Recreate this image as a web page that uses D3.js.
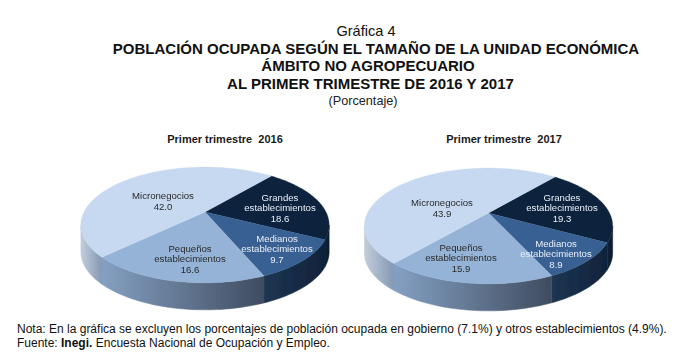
<!DOCTYPE html>
<html>
<head>
<meta charset="utf-8">
<script src="https://cdn.jsdelivr.net/npm/d3@7"></script>
<style>
	html, body { margin: 0; padding: 0; background: #fff; }
	text { font-family: "Liberation Sans", Arial, sans-serif; }
</style>
</head>
<body>
<svg id="chart" width="682" height="359"></svg>
<script>
'use strict';

// data
var categories = ['Grandes establecimientos', 'Medianos establecimientos', 'Pequeños establecimientos', 'Micronegocios'];
var values2016 = [18.6, 9.7, 16.6, 42.0];
var values2017 = [19.3, 8.9, 15.9, 43.9];
var chartTitles = ['Primer trimestre  2016', 'Primer trimestre  2017'];
var titleLines = [
	'POBLACIÓN OCUPADA SEGÚN EL TAMAÑO DE LA UNIDAD ECONÓMICA',
	'ÁMBITO NO AGROPECUARIO',
	'AL PRIMER TRIMESTRE DE 2016 Y 2017'
];

// slice styles, same order as categories
var topColors = ['#0f243e', '#376092', '#95b3d7', '#c6d9f1'];
var wallColors = [
	['#12233a', '#0b1a2e'],
	['#1d3552', '#10233b'],
	['#84a0c2', '#3f4c60'],
	['#c3cedc', '#8398b2']
];
var labelColors = ['#e8eef6', '#e8eef6', '#2b2b2b', '#2b2b2b'];

// label anchors [x, y of middle line] for each pie
var labelPos = [
	[[280, 208], [277, 249], [190, 259], [163, 201]],
	[[562, 208], [556, 254], [461, 258], [442, 208]]
];

var svg = d3.select('#chart');
var defs = svg.append('defs');
defs.append('filter').attr('id', 'soft')
	.append('feGaussianBlur').attr('stdDeviation', 0.45);
defs.append('filter').attr('id', 'softText')
	.append('feGaussianBlur').attr('stdDeviation', 0.25);

var tilt = 0.224;

/**
 * Perspective view of a flat disc: angle (clockwise from the back) to page position.
 */
var projector = function(cx, cy) {
	var rx = 121, ry = 55;
	return function(angle, depth) {
		var s = 1 / (1 + tilt * Math.cos(angle));
		return [
			cx + rx * Math.sin(angle) * s,
			cy - ry * Math.cos(angle) * s + (depth || 0)
		];
	};
};

var samples = function(a0, a1) {
	var n = Math.max(2, Math.ceil((a1 - a0) / 0.03));
	return d3.range(n + 1).map(function(i) { return a0 + (a1 - a0) * i / n; });
};

/**
 * Draws one pie with its wall, top face, labels and title.
 */
var drawPie = function(values, index, cx, cy, titleX) {
	var project = projector(cx, cy);
	var depth = 27;
	var line = d3.line();
	var startAngle = 40 * Math.PI / 180;

	var arcs = d3.pie().sort(null)
		.startAngle(startAngle)
		.endAngle(startAngle + 2 * Math.PI)(values);

	var g = svg.append('g').attr('filter', 'url(#soft)');

	// the wall is only seen between the two silhouette angles
	var wallFrom = Math.acos(-tilt);
	var wallTo = 2 * Math.PI - wallFrom;

	arcs.forEach(function(d, i) {
		var a0 = Math.max(d.startAngle, wallFrom);
		var a1 = Math.min(d.endAngle, wallTo);
		if (a1 <= a0) return;

		var topEdge = samples(a0, a1).map(function(a) { return project(a); });
		var bottomEdge = samples(a0, a1).reverse().map(function(a) { return project(a, depth); });

		var gradId = 'wall-' + index + '-' + i;
		var grad = defs.append('linearGradient').attr('id', gradId)
			.attr('gradientUnits', 'userSpaceOnUse')
			.attr('x1', topEdge[0][0]).attr('x2', topEdge[topEdge.length - 1][0])
			.attr('y1', 0).attr('y2', 0);
		grad.append('stop').attr('offset', 0).attr('stop-color', wallColors[i][1]);
		grad.append('stop').attr('offset', 1).attr('stop-color', wallColors[i][0]);

		g.append('path')
			.attr('d', line(topEdge.concat(bottomEdge)) + 'Z')
			.attr('fill', 'url(#' + gradId + ')')
			.attr('stroke', 'url(#' + gradId + ')')
			.attr('stroke-width', 0.5);
	});

	// top face
	arcs.forEach(function(d, i) {
		var rim = samples(d.startAngle, d.endAngle).map(function(a) { return project(a); });
		g.append('path')
			.attr('d', line([[cx, cy]].concat(rim)) + 'Z')
			.attr('fill', topColors[i])
			.attr('stroke', topColors[i])
			.attr('stroke-width', 0.3);
	});

	// slice labels
	arcs.forEach(function(d, i) {
		var lines = categories[i].split(' ').concat([d3.format('.1f')(values[i])]);
		var pos = labelPos[index][i];
		var text = svg.append('text')
			.attr('text-anchor', 'middle')
			.attr('font-size', 9.6)
			.attr('fill', labelColors[i])
			.attr('filter', 'url(#softText)');
		lines.forEach(function(s, j) {
			text.append('tspan')
				.attr('x', pos[0])
				.attr('y', pos[1] + (j - (lines.length - 1) / 2) * 10.8 + 3.4)
				.text(s);
		});
	});

	svg.append('text')
		.attr('x', titleX).attr('y', 143)
		.attr('text-anchor', 'middle')
		.attr('font-size', 11)
		.attr('font-weight', 'bold')
		.attr('fill', '#1a1a1a')
		.style('white-space', 'pre')
		.text(chartTitles[index]);
};

// heading
svg.append('text').attr('x', 366).attr('y', 36)
	.attr('text-anchor', 'middle').attr('font-size', 14.6).attr('fill', '#111')
	.text('Gráfica 4');
var titleY = [53.5, 71, 89];
var titleX = [376, 368, 370.5];
titleLines.forEach(function(s, i) {
	svg.append('text').attr('x', titleX[i]).attr('y', titleY[i])
		.attr('text-anchor', 'middle').attr('font-size', 15).attr('font-weight', 'bold').attr('fill', '#111')
		.text(s);
});
svg.append('text').attr('x', 363).attr('y', 105)
	.attr('text-anchor', 'middle').attr('font-size', 12.7).attr('fill', '#222')
	.text('(Porcentaje)');

drawPie(values2016, 0, 205, 212, 225);
drawPie(values2017, 1, 488.5, 213, 504);

// footnotes
svg.append('text').attr('x', 17).attr('y', 333).attr('font-size', 12).attr('fill', '#111')
	.text('Nota: En la gráfica se excluyen los porcentajes de población ocupada en gobierno (7.1%) y otros establecimientos (4.9%).');
var source = svg.append('text').attr('x', 17).attr('y', 347).attr('font-size', 12).attr('fill', '#111');
source.append('tspan').text('Fuente: ');
source.append('tspan').attr('font-weight', 'bold').text('Inegi.');
source.append('tspan').text(' Encuesta Nacional de Ocupación y Empleo.');
</script>
</body>
</html>
